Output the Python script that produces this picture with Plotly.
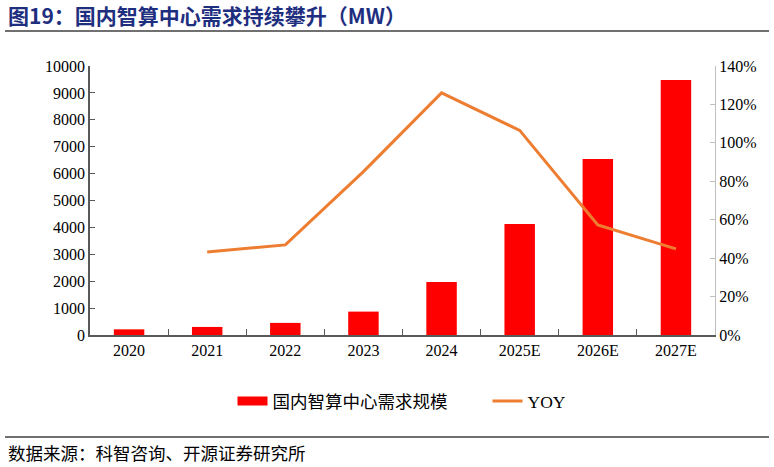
import plotly.graph_objects as go

years = ["2020", "2021", "2022", "2023", "2024", "2025E", "2026E", "2027E"]
demand_mw = [210, 300, 450, 870, 1970, 4130, 6540, 9480]
yoy_years = ["2021", "2022", "2023", "2024", "2025E", "2026E", "2027E"]
yoy_pct = [43.2, 46.9, 85.0, 126.0, 106.5, 57.3, 44.8]

serif = "Liberation Serif, Times New Roman, serif"
cjk = "Noto Sans CJK SC"

L, R, T, B = 90, 59, 66, 132
PW, PH = 774 - L - R, 467 - T - B

def px(x):
    return (x - L) / PW

def py(y):
    return (467 - B - y) / PH

fig = go.Figure()
fig.add_trace(go.Bar(x=years, y=demand_mw, name="国内智算中心需求规模", showlegend=False,
                     marker=dict(color="#FF0000", line=dict(width=0)), yaxis="y"))
# legend swatch for the bars (wide rectangle like the reference)
fig.add_trace(go.Scatter(x=[None], y=[None], name="国内智算中心需求规模" + "\u00a0" * 8, mode="lines",
                         line=dict(color="#FF0000", width=9), yaxis="y"))
fig.add_trace(go.Scatter(x=yoy_years, y=yoy_pct, name="YOY", mode="lines",
                         line=dict(color="#ED7D31", width=3), yaxis="y2"))

fig.update_layout(
    width=774, height=467,
    margin=dict(l=L, r=R, t=T, b=B),
    paper_bgcolor="white", plot_bgcolor="white",
    bargap=0.61,
    showlegend=True,
    legend=dict(orientation="h", x=px(402), xanchor="center", y=py(383), yanchor="top",
                font=dict(family=serif + ", " + cjk, size=17.5, color="#000000"),
                tracegroupgap=0),
    xaxis=dict(categoryorder="array", categoryarray=years,
               showline=True, linecolor="#595959", linewidth=1.5,
               ticks="inside", tickson="boundaries", ticklen=6, tickcolor="#595959",
               tickfont=dict(family=serif, size=16, color="#000000"),
               showgrid=False, zeroline=False),
    yaxis=dict(range=[0, 10000], dtick=1000, tickformat="d",
               showline=True, linecolor="#595959", linewidth=1.5,
               ticks="inside", ticklen=5, tickcolor="#595959",
               tickfont=dict(family=serif, size=16, color="#000000"),
               showgrid=False, zeroline=False),
    yaxis2=dict(range=[0, 140], dtick=20, overlaying="y", side="right", ticksuffix="%",
                showline=True, linecolor="#BFBFBF", linewidth=1,
                ticks="inside", ticklen=5, tickcolor="#BFBFBF",
                tickfont=dict(family=serif, size=16, color="#000000"),
                showgrid=False, zeroline=False),
)

fig.add_annotation(text="<b>图19：国内智算中心需求持续攀升（MW）</b>", xref="paper", yref="paper",
                   x=px(6), y=py(15), xanchor="left", yanchor="middle",
                   showarrow=False, font=dict(family=cjk, size=21, color="#1F2F7F"))
fig.add_annotation(text="数据来源：科智咨询、开源证券研究所", xref="paper", yref="paper",
                   x=px(6), y=py(452), xanchor="left", yanchor="middle",
                   showarrow=False, font=dict(family=cjk, size=17.5, color="#000000"))
fig.add_shape(type="line", xref="paper", yref="paper", x0=px(5), x1=px(769),
              y0=py(31), y1=py(31), line=dict(color="#404040", width=1.5))
fig.add_shape(type="line", xref="paper", yref="paper", x0=px(5), x1=px(769),
              y0=py(437), y1=py(437), line=dict(color="#404040", width=1.5))

fig.write_html("out.html", config={"displayModeBar": False},
               post_script="document.body.style.margin='0';document.body.style.overflow='hidden';")
